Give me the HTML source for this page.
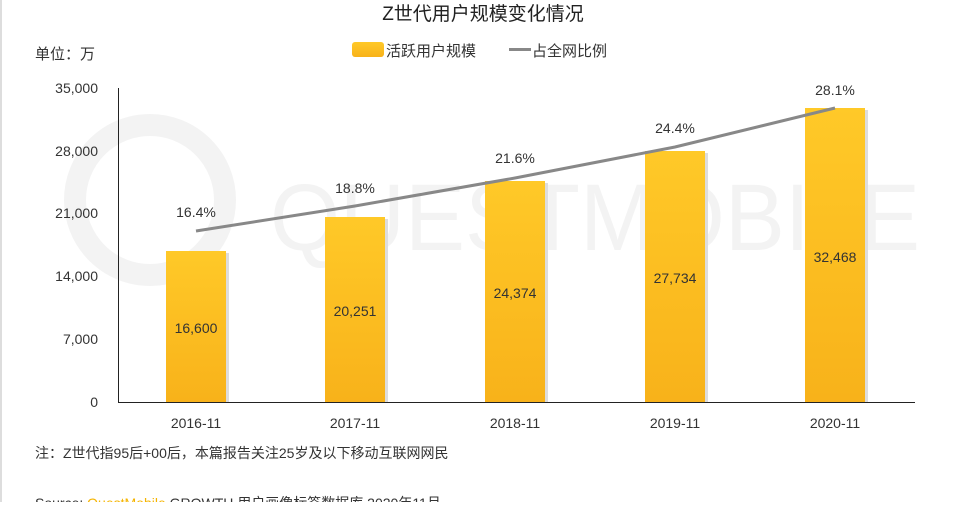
<!DOCTYPE html>
<html><head><meta charset="utf-8"><style>
body{margin:0;background:#fff;}
svg text{font-family:"Liberation Sans","Noto Sans CJK SC",sans-serif;}
</style></head><body>
<svg width="960" height="502" viewBox="0 0 960 502" xmlns="http://www.w3.org/2000/svg">
<defs>
<linearGradient id="g" x1="0" y1="0" x2="0" y2="1">
<stop offset="0" stop-color="#ffc928"/><stop offset="1" stop-color="#f8b21a"/>
</linearGradient>
</defs>
<rect x="0" y="0" width="2" height="502" fill="#ddd"/>
<circle cx="150" cy="200" r="75" fill="none" stroke="#f3f3f3" stroke-width="22"/>
<text x="270" y="250" font-size="95" fill="#f3f3f3" textLength="650" lengthAdjust="spacingAndGlyphs">QUESTMOBILE</text>
<text x="483" y="20" font-size="19" text-anchor="middle" fill="#222">Z世代用户规模变化情况</text>
<text x="35" y="59" font-size="15" fill="#333">单位：万</text>
<rect x="352" y="42" width="32" height="15" rx="3" fill="url(#g)"/>
<text x="386" y="56" font-size="15" fill="#333">活跃用户规模</text>
<rect x="509" y="48" width="22" height="3" fill="#888"/>
<text x="532" y="56" font-size="15" fill="#333">占全网比例</text>
<g font-size="14" fill="#333" text-anchor="end">
<text x="98" y="93">35,000</text>
<text x="98" y="156">28,000</text>
<text x="98" y="218">21,000</text>
<text x="98" y="281">14,000</text>
<text x="98" y="344">7,000</text>
<text x="98" y="407">0</text>
</g>
<g fill="url(#g)">
<rect x="166" y="251" width="60" height="151"/>
<rect x="325" y="217" width="60" height="185"/>
<rect x="485" y="181" width="60" height="221"/>
<rect x="645" y="151" width="60" height="251"/>
<rect x="805" y="108" width="60" height="294"/>
</g>
<g fill="#ddd"><rect x="226" y="253" width="3" height="149"/><rect x="385" y="219" width="3" height="183"/><rect x="545" y="183" width="3" height="219"/><rect x="705" y="153" width="3" height="249"/><rect x="865" y="110" width="3" height="292"/></g>
<line x1="118.5" y1="88" x2="118.5" y2="402" stroke="#222"/>
<line x1="118" y1="402.5" x2="915" y2="402.5" stroke="#222"/>
<g font-size="14" fill="#333" text-anchor="middle">
<text x="196" y="333">16,600</text>
<text x="355" y="316">20,251</text>
<text x="515" y="298">24,374</text>
<text x="675" y="283">27,734</text>
<text x="835" y="262">32,468</text>
<text x="196" y="217">16.4%</text>
<text x="355" y="193">18.8%</text>
<text x="515" y="163">21.6%</text>
<text x="675" y="133">24.4%</text>
<text x="835" y="95">28.1%</text>
<text x="196" y="428">2016-11</text>
<text x="355" y="428">2017-11</text>
<text x="515" y="428">2018-11</text>
<text x="675" y="428">2019-11</text>
<text x="835" y="428">2020-11</text>
</g>
<polyline points="196,231 355,206 515,178 675,147 835,108" fill="none" stroke="#888" stroke-width="3"/>
<text x="35" y="458" font-size="14" fill="#333">注：Z世代指95后+00后，本篇报告关注25岁及以下移动互联网网民</text>
<text x="35" y="508" font-size="14" fill="#333">Source: <tspan fill="#f5b400">QuestMobile</tspan> GROWTH 用户画像标签数据库 2020年11月</text>
</svg>
</body></html>
